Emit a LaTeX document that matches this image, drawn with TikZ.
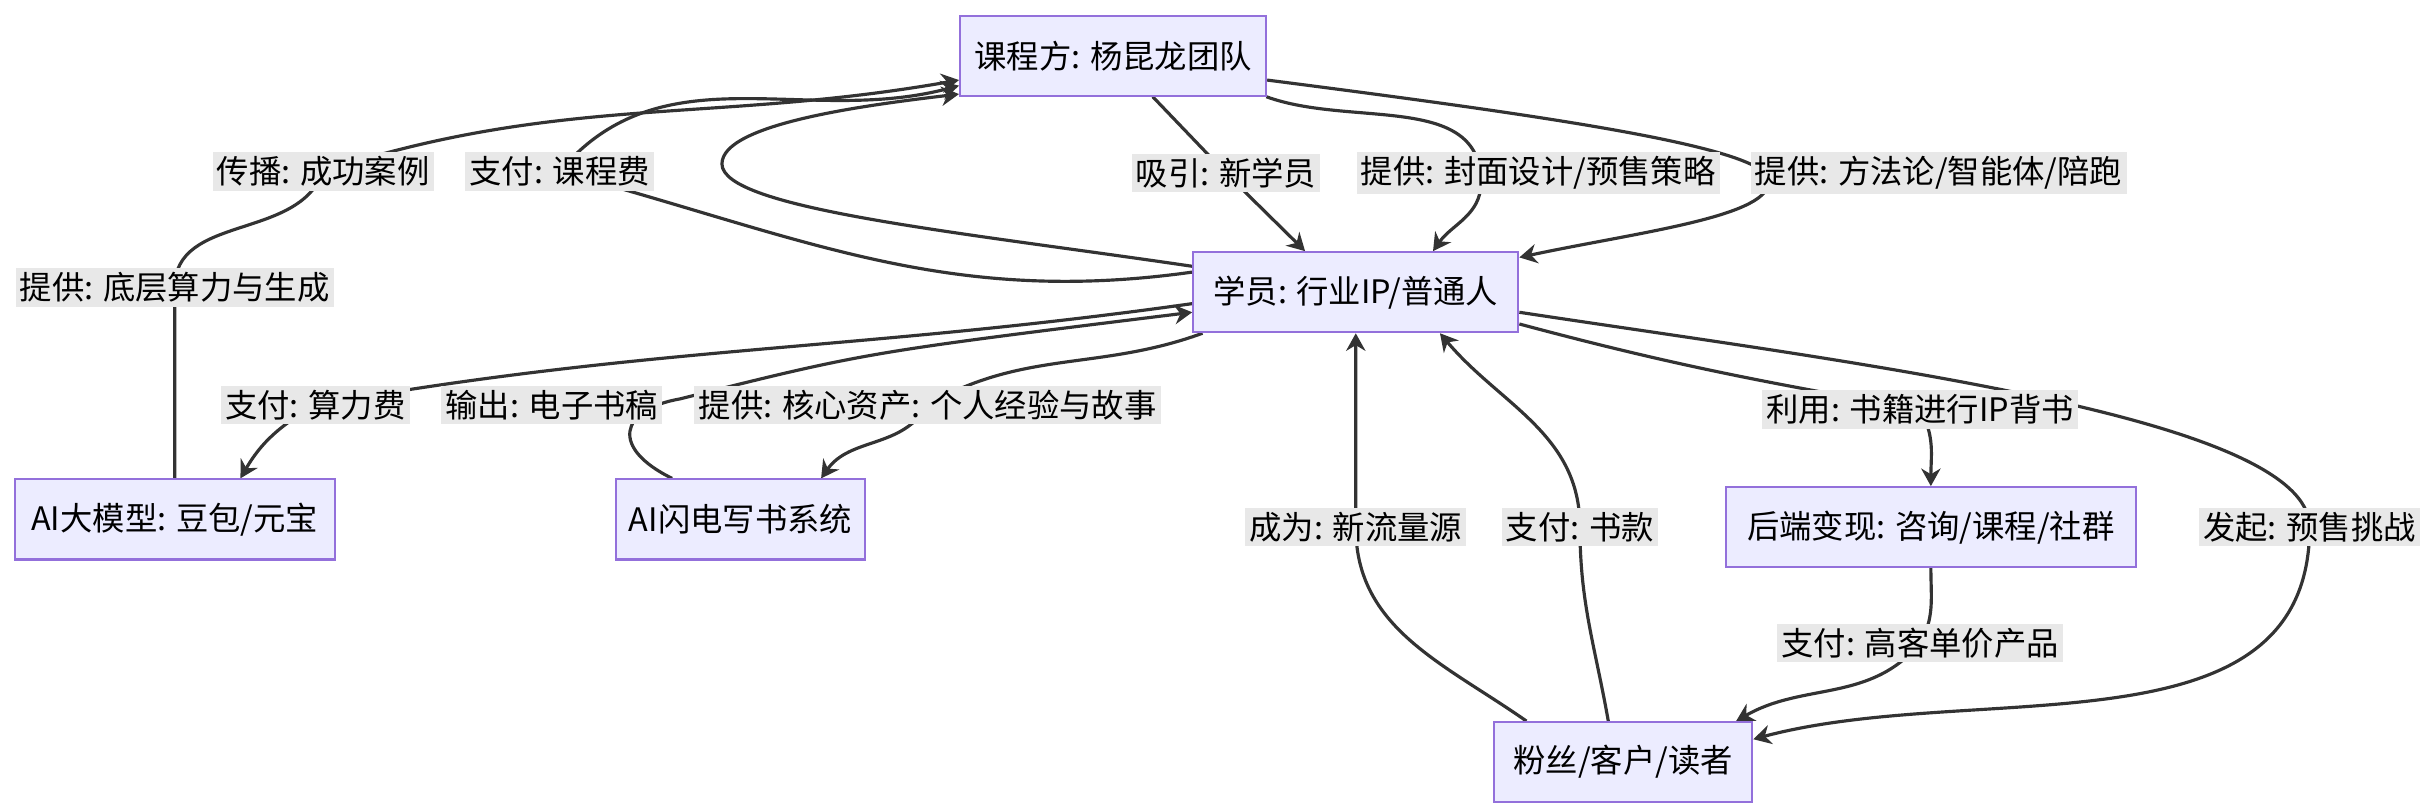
\documentclass[tikz,border=0pt]{standalone}
\usepackage{fontspec}
\setmainfont{Noto Sans CJK SC}
\usetikzlibrary{arrows.meta,backgrounds}
\definecolor{boxfill}{HTML}{ECECFF}
\definecolor{boxline}{HTML}{9370DB}
\definecolor{lblfill}{HTML}{E8E8E8}
\definecolor{ink}{HTML}{333333}

\begin{document}
\begin{tikzpicture}[x=0.01546cm, y=-0.01546cm,
    font=\fontsize{9.2}{11}\selectfont,
    box/.style={draw=boxline, fill=boxfill, line width=0.6pt, minimum height=0.8cm, inner sep=2pt},
    lbl/.style={fill=lblfill, inner sep=1.2pt},
    flow/.style={draw=ink, line width=0.9pt, -{Stealth[length=5pt,width=5.5pt]}}]
    \useasboundingbox (0,0) rectangle (1568,525);

    \node[box, minimum width=3.06cm] (course) at (720,36) {课程方: 杨昆龙团队};
    \node[box, minimum width=3.25cm] (student) at (877,189) {学员: 行业IP/普通人};
    \node[box, minimum width=3.2cm] (llm) at (113,336) {AI大模型: 豆包/元宝};
    \node[box, minimum width=2.49cm] (sys) at (479,336) {AI闪电写书系统};
    \node[box, minimum width=4.1cm] (backend) at (1249,341) {后端变现: 咨询/课程/社群};
    \node[box, minimum width=2.58cm] (fans) at (1050,493) {粉丝/客户/读者};

    \node[lbl] (lgen) at (113,186) {提供: 底层算力与生成};
    \node[lbl] (lspread) at (209,111) {传播: 成功案例};
    \node[lbl] (lfee) at (362,111) {支付: 课程费};
    \node[lbl] (ljoin) at (793,112) {吸引: 新学员};
    \node[lbl] (lcover) at (995,112) {提供: 封面设计/预售策略};
    \node[lbl] (lmethod) at (1254,112) {提供: 方法论/智能体/陪跑};
    \node[lbl] (lcompute) at (204,262) {支付: 算力费};
    \node[lbl] (lout) at (357,262) {输出: 电子书稿};
    \node[lbl] (lcore) at (600,262) {提供: 核心资产: 个人经验与故事};
    \node[lbl] (luse) at (1242,265) {利用: 书籍进行IP背书};
    \node[lbl] (lpresale) at (1494,341) {发起: 预售挑战};
    \node[lbl] (lhigh) at (1242,416) {支付: 高客单价产品};
    \node[lbl] (lnew) at (877,341) {成为: 新流量源};
    \node[lbl] (lbook) at (1022,341) {支付: 书款};

    \coordinate (loopl) at (467,106);
    \coordinate (coverbend) at (958,118);
    \coordinate (methodbend) at (1144,116);
    \coordinate (outbend) at (440,258);

    \begin{scope}[on background layer]
    % top half: course side
    \draw[flow] (llm.north) -- (lgen.center) to[out=90,in=-110] (lspread.center) to[out=18,in=190] (course.189);
    \draw[flow] (student.173) to[out=188,in=-15] (lfee.center) to[out=50,in=195] (course.191);
    \draw[flow] (student.171) .. controls (620,150) and (467,135) .. (loopl) .. controls (467,80) and (560,68) .. (course.194);
    \draw[flow] (course.314) -- (ljoin.center) -- (student.141);
    \draw[flow] (course.345) to[out=-20,in=90] (coverbend) to[out=-90,in=55] (student.28);
    \draw[flow] (course.351) .. controls (1000,75) and (1140,95) .. (methodbend) .. controls (1148,140) and (1060,150) .. (student.12);
    % tools
    \draw[flow] (student.184) to[out=188,in=10] (lcompute.center) to[out=-150,in=60] (llm.32);
    \draw[flow] (sys.149) .. controls (395,290) and (400,265) .. (outbend) .. controls (560,228) .. (student.187);
    \draw[flow] (student.195) to[out=200,in=30] (lcore.center) to[out=-120,in=55] (sys.27);
    % monetisation
    \draw[flow] (student.349) to[out=-15,in=170] (luse.center) to[out=-60,in=90] (backend.north);
    \draw[flow] (student.353) .. controls (1200,235) and (1494,270) .. (lpresale.center) to[out=-90,in=15] (fans.10);
    \draw[flow] (backend.south) to[out=-90,in=60] (lhigh.center) to[out=-130,in=30] (fans.20);
    \draw[flow] (fans.157) to[out=145,in=-90] (lnew.center) -- (student.south);
    \draw[flow] (fans.110) to[out=100,in=-90] (lbook.center) to[out=90,in=-50] (student.334);
    \end{scope}
\end{tikzpicture}
\end{document}
